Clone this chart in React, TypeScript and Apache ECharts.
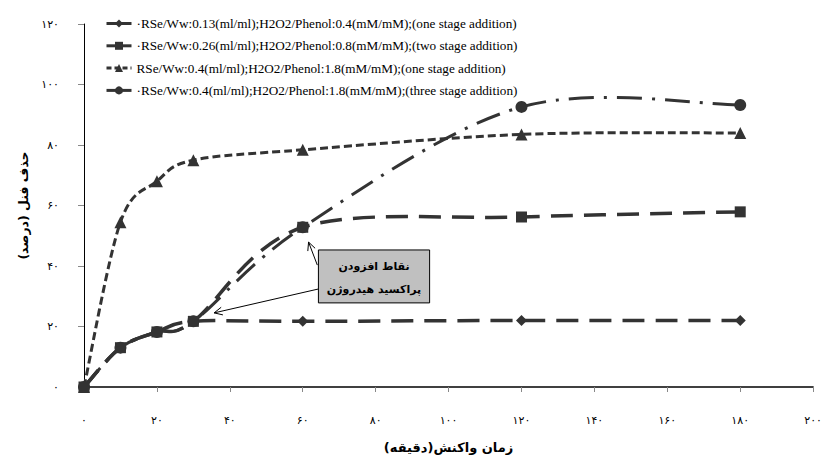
import React, { useEffect, useRef } from "react";
import * as echarts from "echarts";

const times = [0, 10, 20, 30, 60, 120, 180];
const seriesOne = [0, 13, 18.2, 21.7, 21.7, 22, 22];
const seriesTwo = [0, 13, 18.2, 21.7, 52.8, 56.2, 57.9];
const seriesThree = [0, 54.5, 68, 75, 78.4, 83.5, 84];
const seriesFour = [0, 13, 18.2, 21.7, 52.8, 92.6, 93.2];
const seriesNames = [
  "\u00b7RSe/Ww:0.13(ml/ml);H2O2/Phenol:0.4(mM/mM);(one stage addition)",
  "\u00b7RSe/Ww:0.26(ml/ml);H2O2/Phenol:0.8(mM/mM);(two stage addition)",
  "RSe/Ww:0.4(ml/ml);H2O2/Phenol:1.8(mM/mM);(one stage addition)",
  "\u00b7RSe/Ww:0.4(ml/ml);H2O2/Phenol:1.8(mM/mM);(three stage addition)",
];
const xAxisTitle = "زمان واکنش(دقیقه)\u200F";
const yAxisTitle = "حذف فنل (درصد)\u200F";
const noteLines = ["نقاط افزودن", "پراکسید هیدروژن"];
// annotation placement in data units
const noteBox = { x0: 64.3, y0: 45.3, x1: 94.8, y1: 27.8 };
const arrows = [
  { from: [64, 40.3], to: [61.6, 47.9] },
  { from: [64.3, 32.4], to: [35.7, 24.5] },
];

const faDigits = "۰۱۲۳۴۵۶۷۸۹";
const fa = (v: number) => String(v).replace(/\d/g, (d) => faDigits[+d]);

const COLOR = "#333333";
const FA_FONT = "DejaVu Sans";

export default function App() {
  const ref = useRef<HTMLDivElement>(null);
  useEffect(() => {
    document.body.style.margin = "0";
    const chart = echarts.init(ref.current!, undefined, { renderer: "svg" });

    const styles = [
      { data: seriesOne, symbol: "diamond", size: 11, dash: [22, 11], width: 3.5 },
      { data: seriesTwo, symbol: "rect", size: 11, dash: [22, 11], width: 3.5 },
      { data: seriesThree, symbol: "triangle", size: 12, dash: [8, 4], width: 3 },
      { data: seriesFour, symbol: "circle", size: 12, dash: [25, 10, 3, 10], width: 3 },
    ];

    // smooth curve (Excel-like cardinal spline) drawn through the axes' scales
    const curve = (values: number[], dash: number[], width: number) => ({
      type: "custom",
      z: 1,
      silent: true,
      data: times.map((t, i) => [t, values[i]]),
      renderItem: (params: any, api: any) => {
        if (params.dataIndex !== 0) return null;
        const pts = times.map((t, i) => api.coord([t, values[i]]));
        let d = `M${pts[0][0]} ${pts[0][1]}`;
        for (let i = 0; i < pts.length - 1; i++) {
          const p0 = pts[Math.max(i - 1, 0)];
          const p1 = pts[i];
          const p2 = pts[i + 1];
          const p3 = pts[Math.min(i + 2, pts.length - 1)];
          const c1 = [p1[0] + (p2[0] - p0[0]) / 6, p1[1] + (p2[1] - p0[1]) / 6];
          const c2 = [p2[0] - (p3[0] - p1[0]) / 6, p2[1] - (p3[1] - p1[1]) / 6];
          d += ` C${c1[0]} ${c1[1]} ${c2[0]} ${c2[1]} ${p2[0]} ${p2[1]}`;
        }
        return {
          type: "path",
          shape: { pathData: d },
          style: { stroke: COLOR, lineWidth: width, lineDash: dash, fill: "none" },
        };
      },
    });

    const marks = (i: number) => ({
      name: seriesNames[i],
      type: "line",
      z: 3,
      data: times.map((t, k) => [t, styles[i].data[k]]),
      symbol: styles[i].symbol,
      symbolSize: styles[i].size,
      showSymbol: true,
      itemStyle: { color: COLOR },
      lineStyle: { color: COLOR, width: styles[i].width, type: styles[i].dash, opacity: 0 },
    });

    chart.setOption({
      animation: false,
      grid: { left: 84, right: 7, top: 24, bottom: 78 },
      legend: {
        orient: "vertical",
        left: 100,
        top: 12,
        itemWidth: 25,
        itemHeight: 10,
        itemGap: 9.3,
        selectedMode: false,
        data: seriesNames.map((n, i) => ({
          name: n,
          lineStyle: { color: COLOR, width: 3, type: i === 2 ? [5, 3] : "solid", opacity: 1 },
        })),
        textStyle: { fontFamily: "Liberation Serif", fontSize: 13.2, color: "#000" },
      },
      xAxis: {
        type: "value",
        min: 0,
        max: 200,
        interval: 20,
        splitLine: { show: false },
        axisLine: { lineStyle: { color: "#000", width: 1.5 } },
        axisTick: { show: true, length: 5, lineStyle: { color: "#888" } },
        axisLabel: { formatter: (v: number) => fa(v), margin: 28, fontFamily: FA_FONT, fontSize: 11, color: "#000" },
        name: xAxisTitle,
        nameLocation: "middle",
        nameGap: 54,
        nameTextStyle: { fontFamily: FA_FONT, fontWeight: "bold", fontSize: 13, color: "#000" },
      },
      yAxis: {
        type: "value",
        min: 0,
        max: 120,
        interval: 20,
        splitLine: { show: false },
        axisLine: { show: true, lineStyle: { color: "#000", width: 1 } },
        axisTick: { show: true, length: 6, lineStyle: { color: "#888" } },
        axisLabel: { formatter: (v: number) => fa(v), margin: 25, fontFamily: FA_FONT, fontSize: 11, color: "#000" },
        name: yAxisTitle,
        nameLocation: "middle",
        nameGap: 52,
        nameRotate: 90,
        nameTextStyle: { fontFamily: FA_FONT, fontWeight: "bold", fontSize: 12.5, color: "#000" },
      },
      series: [
        curve(seriesOne, styles[0].dash, styles[0].width),
        curve(seriesThree, styles[2].dash, styles[2].width),
        curve(seriesFour, styles[3].dash, styles[3].width),
        curve(seriesTwo, styles[1].dash, styles[1].width),
        marks(0),
        marks(2),
        marks(3),
        marks(1),
      ],
    });

    const px = (p: number[]) => chart.convertToPixel({ gridIndex: 0 }, p) as number[];
    const a = px([noteBox.x0, noteBox.y0]);
    const b = px([noteBox.x1, noteBox.y1]);
    const els: any[] = [];
    arrows.forEach((ar) => {
      const f = px(ar.from);
      const t = px(ar.to);
      const ang = Math.atan2(f[1] - t[1], f[0] - t[0]);
      const L = 9;
      const s = 0.45;
      els.push({ type: "line", shape: { x1: f[0], y1: f[1], x2: t[0], y2: t[1] }, style: { stroke: "#000", lineWidth: 1 }, z: 100 });
      els.push({
        type: "polyline",
        shape: {
          points: [
            [t[0] + L * Math.cos(ang + s), t[1] + L * Math.sin(ang + s)],
            [t[0], t[1]],
            [t[0] + L * Math.cos(ang - s), t[1] + L * Math.sin(ang - s)],
          ],
        },
        style: { stroke: "#000", lineWidth: 1, fill: "none" },
        z: 100,
      });
    });
    els.push({
      type: "rect",
      shape: { x: a[0], y: a[1], width: b[0] - a[0], height: b[1] - a[1] },
      style: { fill: "#c0c0c0", stroke: "#000", lineWidth: 1 },
      z: 101,
    });
    const cx = (a[0] + b[0]) / 2;
    const h = b[1] - a[1];
    noteLines.forEach((line, i) => {
      els.push({
        type: "text",
        x: cx,
        y: a[1] + h * (i === 0 ? 0.31 : 0.74),
        style: {
          text: line,
          fontFamily: FA_FONT,
          fontWeight: "bold",
          fontSize: 11,
          fill: "#000",
          align: "center",
          verticalAlign: "middle",
        },
        z: 102,
      });
    });
    chart.setOption({ graphic: { elements: els } });
    return () => chart.dispose();
  }, []);
  return <div ref={ref} style={{ width: 825, height: 465 }} />;
}
